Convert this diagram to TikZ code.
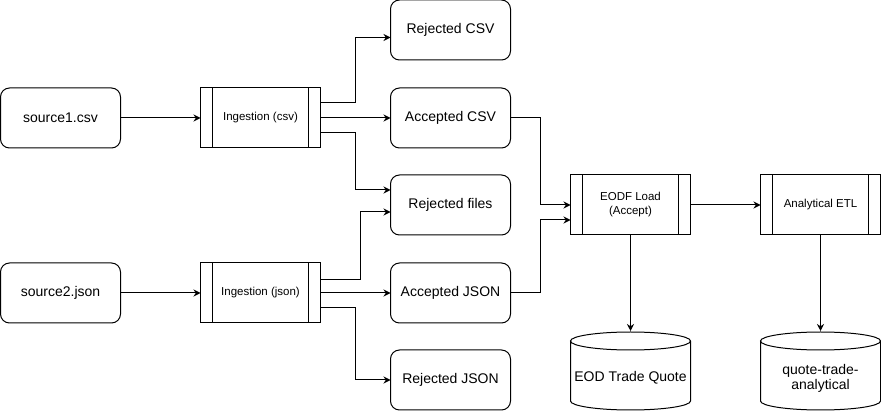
\documentclass[tikz,border=0pt]{standalone}
\usepackage{fontspec}
\setmainfont{Liberation Sans}
\usetikzlibrary{arrows.meta,positioning}

% cylinder outline round a db node (top ellipse centred 5pt above north)
\newcommand{\dbshape}[1]{%
  \draw ([yshift=5pt]#1.north west) -- ([yshift=9pt]#1.south west)
    arc[start angle=180, end angle=360, x radius=60pt, y radius=9pt]
    -- ([yshift=5pt]#1.north east)
    arc[start angle=0, end angle=360, x radius=60pt, y radius=9pt];
}

\begin{document}
\begin{tikzpicture}[
  x=1pt, y=-1pt,
  line width=1pt,
  font=\fontsize{14}{16}\selectfont,
  box/.style={draw, rounded corners=9pt, outer sep=0pt, minimum width=120pt, minimum height=60pt, align=center},
  proc/.style={draw, outer sep=0pt, minimum width=120pt, minimum height=60pt, align=center,
    font=\fontsize{11.5}{14}\selectfont,
    path picture={\draw ([xshift=12pt]path picture bounding box.north west) -- ([xshift=12pt]path picture bounding box.south west)
      ([xshift=-12pt]path picture bounding box.north east) -- ([xshift=-12pt]path picture bounding box.south east);}},
  db/.style={outer sep=0pt, minimum width=120pt, minimum height=64pt, align=center, font=\fontsize{14}{15}\selectfont},
  arr/.style={-{Stealth[length=7pt,width=7pt]}}
]
\useasboundingbox (0,0) rectangle (881,411);

\node[box] (src1) at (60.5,118) {source1.csv};
\node[proc, right=80pt of src1] (ingc) {Ingestion (csv)};
\node[box, right=70pt of ingc] (acsv) {Accepted CSV};
\node[box, above=28pt of acsv] (rcsv) {Rejected CSV};
\node[box, below=27pt of acsv] (rfil) {Rejected files};
\node[box, below=28pt of rfil] (ajson) {Accepted JSON};
\node[box, below=27pt of ajson] (rjson) {Rejected JSON};
\node[proc, left=70pt of ajson] (ingj) {Ingestion (json)};
\node[box, left=80pt of ingj] (src2) {source2.json};
\node[proc, right=60pt of rfil] (eodf) {EODF Load\\(Accept)};
\node[proc, right=70pt of eodf] (etl) {Analytical ETL};
\node[db, below=111pt of eodf] (eod) {EOD Trade Quote};
\node[db, below=111pt of etl] (qta) {quote-trade-\\analytical};
\dbshape{eod}
\dbshape{qta}

\draw[arr] (src1) -- (ingc);
\draw[arr] (src2) -- (ingj);
\draw[arr] ([yshift=15pt]ingc.east) -- ++(35,0) |- ([yshift=-7.5pt]rcsv.west);
\draw[arr] (ingc) -- (acsv);
\draw[arr] ([yshift=-15pt]ingc.east) -- ++(35,0) |- ([yshift=15pt]rfil.west);
\draw[arr] ([yshift=13pt]ingj.east) -- ++(40,0) |- ([yshift=-7pt]rfil.west);
\draw[arr] (ingj) -- (ajson);
\draw[arr] ([yshift=-15pt]ingj.east) -- ++(35,0) |- (rjson.west);
\draw[arr] (acsv.east) -- ++(30,0) |- (eodf.west);
\draw[arr] (ajson.east) -- ++(30,0) |- ([yshift=-15pt]eodf.west);
\draw[arr] (eodf) -- (etl);
\draw[arr] (eodf) -- ([yshift=15pt]eod.north);
\draw[arr] (etl) -- ([yshift=15pt]qta.north);
\end{tikzpicture}
\end{document}
